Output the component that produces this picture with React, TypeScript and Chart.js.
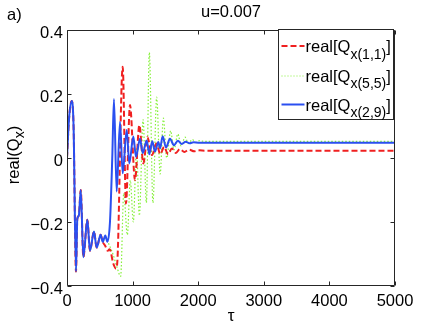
import React, { useEffect, useRef } from 'react';
import { Chart, registerables } from 'chart.js';

Chart.register(...registerables);

// ---- data ----
const xTickValues = [0, 1000, 2000, 3000, 4000, 5000];
const yTickValues = [-0.4, -0.2, 0, 0.2, 0.4];
const yTickText = ['−0.4', '−0.2', '0', '0.2', '0.4'];
const titleText = 'u=0.007';
const panelText = 'a)';
const xTitleText = 'τ';
const legendMain = 'real[Q';
const legendSubs = ['x(1,1)', 'x(5,5)', 'x(2,9)'];

// common early transient (all three series coincide)
const sharedTau = [0, 30, 72, 100, 137, 157, 180, 210, 249, 310, 350, 411, 452, 513, 544];
const sharedVal = [0, 0.12, 0.178, 0.1, -0.355, -0.19, -0.18, -0.1, -0.31, -0.193, -0.29, -0.23, -0.28, -0.24, -0.262];

const blueTau = [584, 615, 655, 690, 716, 757, 808, 849, 910, 950, 1011, 1052, 1113, 1154, 1215, 1255, 1300, 1341, 1392, 1418, 1458, 1509, 1570, 1630, 1690, 1750, 1810, 1870, 1930, 2000, 5000];
const blueVal = [-0.242, -0.262, -0.2, 0.0, 0.184, -0.105, 0.113, -0.048, 0.0875, -0.017, 0.067, 0.004, 0.06, 0.015, 0.055, 0.012, 0.052, 0.02, 0.05, 0.03, 0.068, 0.033, 0.06, 0.04, 0.054, 0.044, 0.051, 0.046, 0.049, 0.048, 0.048];

const redTau = [584, 620, 650, 706, 745, 765, 849, 899, 960, 1037, 1103, 1164, 1225, 1296, 1362, 1423, 1480, 1540, 1600, 1660, 1720, 1790, 1860, 1940, 2020, 2100, 5000];
const redVal = [-0.275, -0.29, -0.285, -0.33, -0.345, -0.33, 0.285, -0.142, 0.166, -0.069, 0.103, -0.017, 0.065, 0.009, 0.045, 0.012, 0.035, 0.012, 0.03, 0.016, 0.028, 0.019, 0.026, 0.021, 0.024, 0.023, 0.023];

const greenTau = [580, 640, 700, 760, 818, 865, 920, 965, 1011, 1060, 1103, 1160, 1210, 1255, 1310, 1367, 1420, 1469, 1520, 1580, 1630, 1690, 1740, 1800, 1850, 1910, 1960, 2020, 2100, 5000];
const greenVal = [-0.25, -0.27, -0.3, -0.34, -0.37, -0.11, -0.24, -0.07, -0.2, 0.03, -0.18, 0.12, -0.14, 0.33, -0.14, 0.19, -0.05, 0.125, 0.0, 0.085, 0.025, 0.075, 0.038, 0.065, 0.045, 0.058, 0.049, 0.054, 0.052, 0.052];

const BLUE = '#2a4ff0';
const RED = '#f02020';
const GREEN = '#86f03a';
const FONT = '"Liberation Sans", Arial, Helvetica, sans-serif';

function pts(t1: number[], v1: number[], t2: number[], v2: number[]) {
  const out: { x: number; y: number }[] = [];
  t1.forEach((t, i) => out.push({ x: t, y: v1[i] }));
  t2.forEach((t, i) => out.push({ x: t, y: v2[i] }));
  return out;
}

const decor = {
  id: 'decor',
  afterDatasetsDraw(chart: any) {
    const { ctx, chartArea: a, scales } = chart;
    const xs = scales.x;
    const ys = scales.y;
    ctx.save();
    const L = Math.round(a.left) + 0.5;
    const R = Math.round(a.right) - 0.5;
    const T = Math.round(a.top) + 0.5;
    const B = Math.round(a.bottom) - 0.5;
    ctx.strokeStyle = '#262626';
    ctx.lineWidth = 1;
    ctx.setLineDash([]);
    ctx.beginPath();
    ctx.rect(L, T, R - L, B - T);
    // inside ticks
    const tl = 4;
    xTickValues.forEach((v) => {
      const px = Math.round(xs.getPixelForValue(v)) + 0.5;
      ctx.moveTo(px, B);
      ctx.lineTo(px, B - tl);
      ctx.moveTo(px, T);
      ctx.lineTo(px, T + tl);
    });
    yTickValues.forEach((v) => {
      const py = Math.round(ys.getPixelForValue(v)) + 0.5;
      ctx.moveTo(L, py);
      ctx.lineTo(L + tl, py);
      ctx.moveTo(R, py);
      ctx.lineTo(R - tl, py);
    });
    ctx.stroke();

    // legend
    const bw = 115;
    const bh = 90;
    const bx = Math.round(a.right) - bw - 1.5;
    const by = Math.round(a.top) - 0.5;
    ctx.fillStyle = '#ffffff';
    ctx.fillRect(bx, by, bw, bh);
    ctx.strokeStyle = '#262626';
    ctx.strokeRect(bx, by, bw, bh);
    const rows = [
      { color: RED, dash: [6, 3], lw: 2, line: 16.5, base: 22.5 },
      { color: GREEN, dash: [1, 2], lw: 1, line: 46.5, base: 52 },
      { color: BLUE, dash: [], lw: 2, line: 75, base: 81 },
    ];
    rows.forEach((r, i) => {
      ctx.strokeStyle = r.color;
      ctx.lineWidth = r.lw;
      ctx.setLineDash(r.dash);
      ctx.beginPath();
      ctx.moveTo(bx + 3, by + r.line);
      ctx.lineTo(bx + 26, by + r.line);
      ctx.stroke();
      ctx.setLineDash([]);
      ctx.fillStyle = '#000';
      ctx.textBaseline = 'alphabetic';
      ctx.textAlign = 'left';
      ctx.font = `16.5px ${FONT}`;
      let tx = bx + 27;
      ctx.fillText(legendMain, tx, by + r.base);
      tx += ctx.measureText(legendMain).width;
      ctx.font = `14px ${FONT}`;
      ctx.fillText(legendSubs[i], tx, by + r.base + 6.5);
      tx += ctx.measureText(legendSubs[i]).width;
      ctx.font = `16.5px ${FONT}`;
      ctx.fillText(']', tx, by + r.base);
    });
    ctx.restore();
  },
  afterDraw(chart: any) {
    const { ctx, chartArea: a } = chart;
    ctx.save();
    ctx.fillStyle = '#000';
    ctx.textBaseline = 'alphabetic';
    ctx.font = `16.5px ${FONT}`;
    ctx.textAlign = 'center';
    const cx = (a.left + a.right) / 2;
    ctx.fillText(titleText, cx, 17);
    ctx.textAlign = 'left';
    ctx.fillText(panelText, 7, 20);
    ctx.font = `17px ${FONT}`;
    ctx.textAlign = 'center';
    ctx.fillText(xTitleText, cx, 321);
    // y label real(Q_x)
    ctx.font = `16.5px ${FONT}`;
    const p1 = 'real(Q';
    const w1 = ctx.measureText(p1).width;
    ctx.font = `14px ${FONT}`;
    const w2 = ctx.measureText('x').width;
    ctx.font = `16.5px ${FONT}`;
    const w3 = ctx.measureText(')').width;
    const total = w1 + w2 + w3;
    ctx.translate(19, 155);
    ctx.rotate(-Math.PI / 2);
    ctx.textAlign = 'left';
    let x = -total / 2;
    ctx.fillText(p1, x, 0);
    x += w1;
    ctx.font = `14px ${FONT}`;
    ctx.fillText('x', x, 5);
    x += w2;
    ctx.font = `16.5px ${FONT}`;
    ctx.fillText(')', x, 0);
    ctx.restore();
  },
};

export default function App() {
  const ref = useRef<HTMLCanvasElement | null>(null);
  useEffect(() => {
    if (!ref.current) return;
    const chart = new Chart(ref.current, {
      type: 'line',
      data: {
        datasets: [
          {
            label: 'real[Q_x(2,9)]',
            data: pts(sharedTau, sharedVal, blueTau, blueVal),
            borderColor: BLUE,
            borderWidth: 2,
            pointRadius: 0,
            cubicInterpolationMode: 'monotone',
          },
          {
            label: 'real[Q_x(1,1)]',
            data: pts(sharedTau, sharedVal, redTau, redVal),
            borderColor: RED,
            borderWidth: 2,
            borderDash: [6, 3],
            pointRadius: 0,
            cubicInterpolationMode: 'monotone',
          },
          {
            label: 'real[Q_x(5,5)]',
            data: pts(sharedTau, sharedVal, greenTau, greenVal),
            borderColor: GREEN,
            borderWidth: 1.2,
            borderDash: [1.5, 2],
            pointRadius: 0,
            cubicInterpolationMode: 'monotone',
          },
        ],
      },
      options: {
        animation: false,
        responsive: true,
        maintainAspectRatio: false,
        layout: { padding: { top: 30, right: 41, left: 0, bottom: 0 } },
        plugins: { legend: { display: false }, tooltip: { enabled: false } },
        scales: {
          x: {
            type: 'linear',
            min: 0,
            max: 5000,
            afterBuildTicks: (s: any) => {
              s.ticks = xTickValues.map((v) => ({ value: v }));
            },
            afterFit: (s: any) => {
              s.height = 41;
            },
            grid: { display: false, drawTicks: false },
            border: { display: false },
            ticks: {
              padding: 6,
              color: '#000',
              maxRotation: 0,
              font: { family: FONT, size: 16.5 },
              callback: (v: any) => String(v),
            },
          },
          y: {
            type: 'linear',
            min: -0.4,
            max: 0.4,
            afterBuildTicks: (s: any) => {
              s.ticks = yTickValues.map((v) => ({ value: v }));
            },
            afterFit: (s: any) => {
              s.width = 67;
            },
            grid: { display: false, drawTicks: false },
            border: { display: false },
            ticks: {
              padding: 4,
              labelOffset: 3,
              color: '#000',
              font: { family: FONT, size: 16.5 },
              callback: (v: any) => {
                const i = yTickValues.findIndex((t) => Math.abs(t - v) < 1e-9);
                return i >= 0 ? yTickText[i] : '';
              },
            },
          },
        },
      },
      plugins: [decor],
    });
    return () => chart.destroy();
  }, []);
  return (
    <div style={{ position: 'absolute', left: 0, top: 0, width: 436, height: 327, background: '#fff' }}>
      <canvas ref={ref} />
    </div>
  );
}
